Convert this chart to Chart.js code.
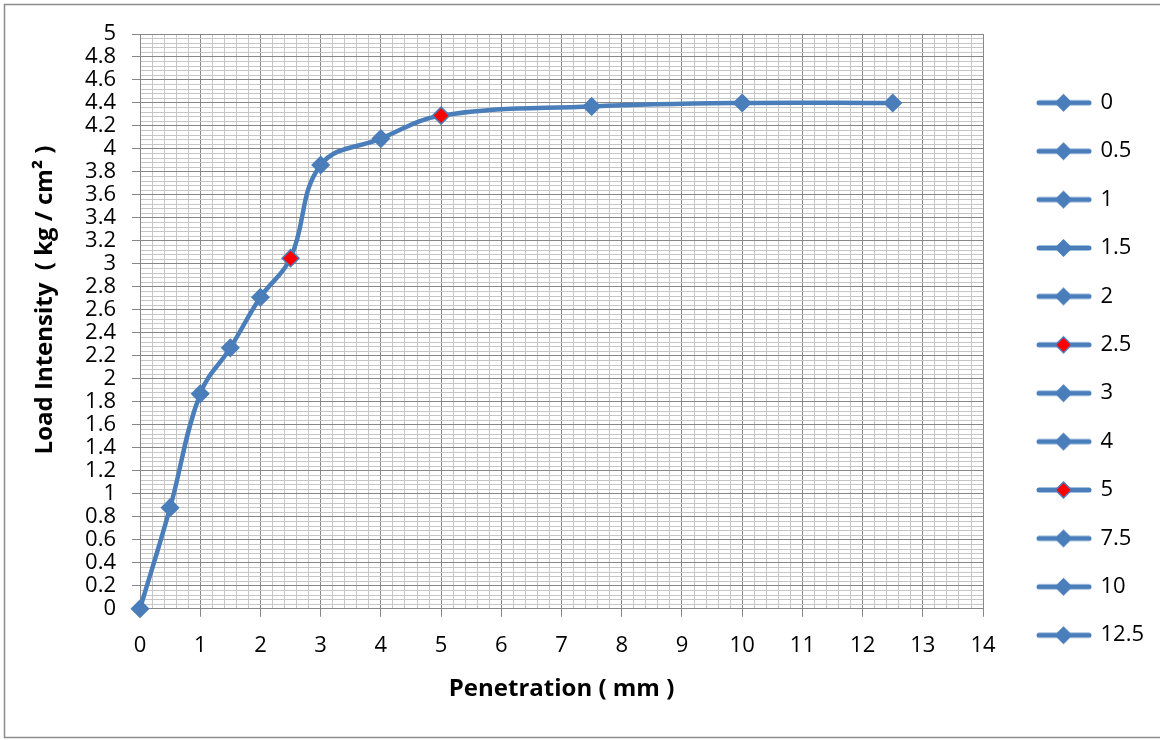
<!DOCTYPE html>
<html><head><meta charset="utf-8">
<script src="https://cdn.jsdelivr.net/npm/chart.js@4.4.1/dist/chart.umd.min.js"></script>
<style>html,body{margin:0;padding:0;background:#fff}#wrap{width:1160px;height:740px;position:relative}</style>
</head><body><div id="wrap"><canvas id="c" width="1160" height="740"></canvas></div>
<script>
// ---- data ----
const penetration = [0, 0.5, 1, 1.5, 2, 2.5, 3, 4, 5, 7.5, 10, 12.5];
const loadIntensity = [0, 0.88, 1.87, 2.27, 2.71, 3.05, 3.86, 4.09, 4.29, 4.37, 4.40, 4.40];
const legendLabels = ['0', '0.5', '1', '1.5', '2', '2.5', '3', '4', '5', '7.5', '10', '12.5'];
const highlightedPoints = [2.5, 5];
const xTitle = 'Penetration ( mm )';
const yTitle = 'Load Intensity  ( kg / cm\u00B2 )';
const xRange = [0, 14];
const yRange = [0, 5];

// ---- style ----
const BLUE = '#4a7ebb';
const RED = '#ff0000';
const MAJOR = '#878787';
const MINOR = '#c6c6c6';
const FONT = '"Open Sans", sans-serif';

function isMultiple(v, step) {
  const q = v / step;
  return Math.abs(q - Math.round(q)) < 1e-6;
}
function fmt(v) { return String(Math.round(v * 10) / 10); }

function makeIcon(fill) {
  const c = document.createElement('canvas');
  c.width = 85; c.height = 20;
  const g = c.getContext('2d');
  g.strokeStyle = BLUE; g.lineWidth = 5; g.lineCap = 'round';
  g.beginPath(); g.moveTo(32, 10); g.lineTo(82, 10); g.stroke();
  g.fillStyle = fill; g.strokeStyle = BLUE; g.lineWidth = 1.5;
  const cx = 56.5;
  g.beginPath(); g.moveTo(cx, 2); g.lineTo(cx + 8, 10); g.lineTo(cx, 18); g.lineTo(cx - 8, 10); g.closePath();
  g.fill(); g.stroke();
  return c;
}
const iconBlue = makeIcon(BLUE);
const iconRed = makeIcon(RED);

const pointFill = penetration.map(x => highlightedPoints.includes(x) ? RED : BLUE);

const framePlugin = {
  id: 'frame',
  beforeDraw(chart) {
    const g = chart.ctx;
    g.save();
    g.fillStyle = '#fff';
    g.fillRect(0, 0, chart.width, chart.height);
    g.strokeStyle = '#8c8c8c'; g.lineWidth = 1.5;
    g.strokeRect(4.5, 4.5, chart.width + 10, 733);
    g.restore();
  },
  afterDraw(chart) {
    // y-axis title (placed as in the original, slightly above the axis centre)
    const g = chart.ctx;
    g.save();
    g.translate(45, 300);
    g.rotate(-Math.PI / 2);
    g.fillStyle = '#000';
    g.font = 'bold 24px ' + FONT;
    g.textAlign = 'center';
    g.textBaseline = 'middle';
    g.fillText(yTitle, 0, 0);
    g.restore();
  }
};

new Chart(document.getElementById('c'), {
  type: 'line',
  data: {
    datasets: [{
      label: 'Load',
      data: penetration.map((x, i) => ({ x: x, y: loadIntensity[i] })),
      borderColor: BLUE,
      borderWidth: 4.5,
      tension: 0.4,
      fill: false,
      clip: false,
      pointStyle: 'rectRot',
      pointRadius: 8.5,
      pointHoverRadius: 8.5,
      pointBackgroundColor: pointFill,
      pointBorderColor: BLUE,
      pointBorderWidth: 1.5
    }]
  },
  options: {
    responsive: false,
    animation: false,
    events: [],
    layout: { padding: { left: 20, top: 34, right: 6, bottom: 36 } },
    plugins: {
      tooltip: { enabled: false },
      legend: {
        position: 'right',
        align: 'center',
        onClick: null,
        labels: {
          usePointStyle: true,
          pointStyleWidth: 80,
          padding: 26.4,
          color: '#000',
          font: { family: FONT, size: 22 },
          generateLabels() {
            return legendLabels.map((t, i) => ({
              text: t,
              pointStyle: highlightedPoints.includes(penetration[i]) ? iconRed : iconBlue,
              fillStyle: 'transparent',
              strokeStyle: 'transparent',
              lineWidth: 0,
              hidden: false,
              fontColor: '#000',
              datasetIndex: 0,
              index: i
            }));
          }
        }
      }
    },
    scales: {
      x: {
        type: 'linear',
        min: xRange[0], max: xRange[1],
        border: { color: MAJOR, width: 1 },
        grid: {
          color: c => (c.tick && isMultiple(c.tick.value, 1)) ? MAJOR : MINOR,
          tickColor: c => (c.tick && isMultiple(c.tick.value, 1)) ? MAJOR : 'rgba(0,0,0,0)',
          tickLength: 8,
          lineWidth: 1
        },
        ticks: {
          stepSize: 0.2,
          autoSkip: false,
          maxRotation: 0,
          maxTicksLimit: 1000,
          padding: 16,
          color: '#000',
          font: { family: FONT, size: 22 },
          callback: v => isMultiple(v, 1) ? fmt(v) : ''
        },
        title: {
          display: true,
          text: xTitle,
          color: '#000',
          font: { family: FONT, size: 24, weight: 'bold' },
          padding: { top: 0, bottom: 0 }
        }
      },
      y: {
        type: 'linear',
        min: yRange[0], max: yRange[1],
        afterFit(scale) { scale.width = 120; },
        border: { color: MAJOR, width: 1 },
        grid: {
          color: c => (c.tick && isMultiple(c.tick.value, 0.2)) ? MAJOR : MINOR,
          tickColor: c => (c.tick && isMultiple(c.tick.value, 0.2)) ? MAJOR : 'rgba(0,0,0,0)',
          tickLength: 8,
          lineWidth: 1
        },
        ticks: {
          stepSize: 0.04,
          autoSkip: false,
          maxTicksLimit: 1000,
          padding: 16,
          color: '#000',
          font: { family: FONT, size: 22 },
          callback: v => isMultiple(v, 0.2) ? fmt(v) : ''
        },
        title: { display: false }
      }
    }
  },
  plugins: [framePlugin]
});
</script>
</body></html>
